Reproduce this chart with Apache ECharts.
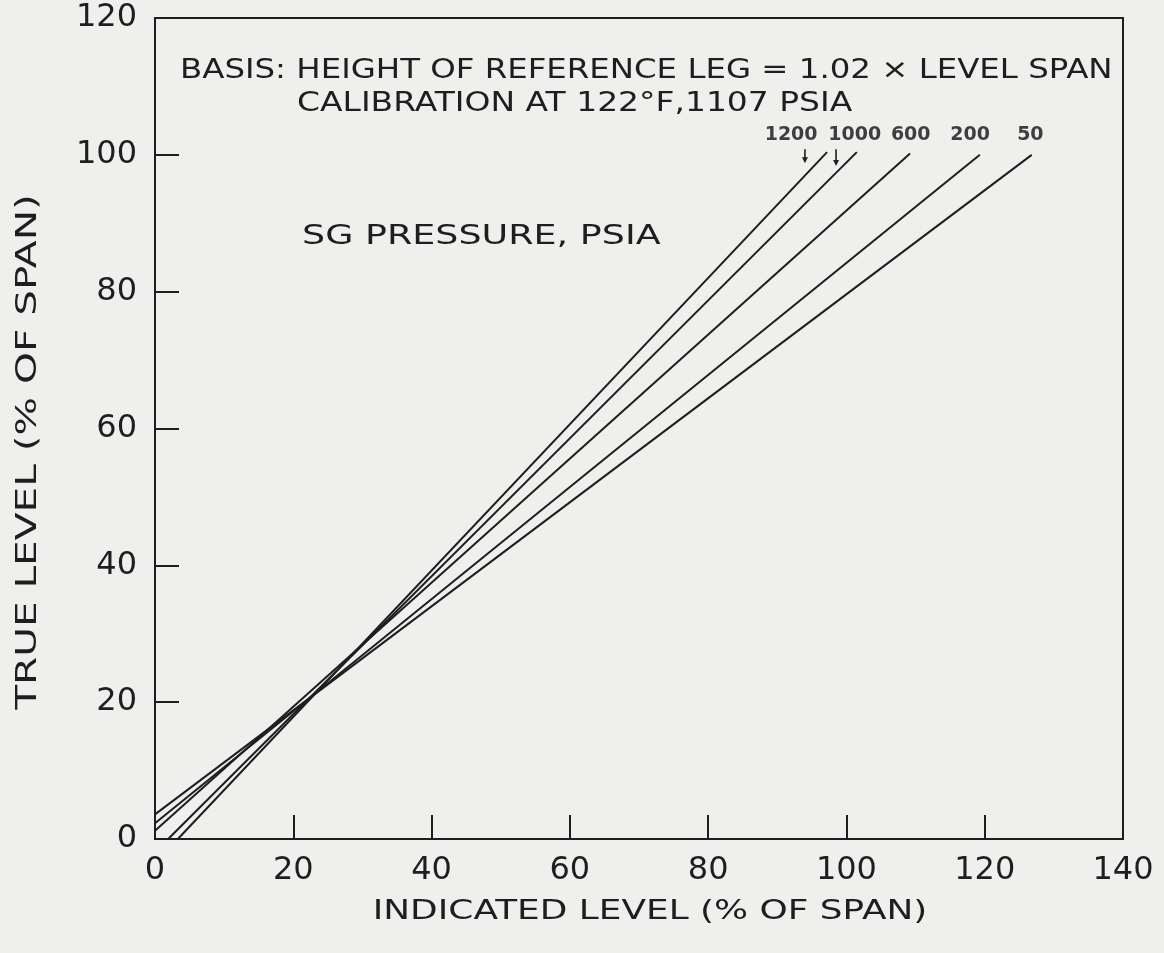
<!DOCTYPE html>
<html>
<head>
<meta charset="utf-8">
<script src="https://cdn.jsdelivr.net/npm/echarts@6/dist/echarts.min.js"></script>
<style>
html,body{margin:0;padding:0;background:#efefed;}
#c{width:1164px;height:953px;}
</style>
</head>
<body>
<div id="c"></div>
<script>
// ---- data ----
var pressures = ['1200', '1000', '600', '200', '50'];
// each line: [indicated level, true level] at its two ends
var line1200 = [[3.3, 0], [97.2, 100.4]];
var line1000 = [[1.9, 0], [101.5, 100.4]];
var line600  = [[0, 1.2], [109.2, 100.2]];
var line200  = [[0, 2.3], [119.3, 100.0]];
var line50   = [[0, 3.6], [126.8, 100.0]];
var lineLabelPos = [[92.0, 102.9], [101.2, 102.9], [109.3, 102.9], [117.9, 102.9], [126.6, 102.9]];
var arrow1200 = [[94.0, 100.8], [94.0, 99.2]];
var arrow1000 = [[98.5, 100.8], [98.5, 98.8]];
var xTicks = [0, 20, 40, 60, 80, 100, 120, 140];
var yTicks = [0, 20, 40, 60, 80, 100, 120];

var ink = '#1e1e1e';
var font = 'DejaVu Sans';
var chart = echarts.init(document.getElementById('c'));

function lineSeries(name, data) {
  return {
    name: name, type: 'line', data: data, symbol: 'none',
    lineStyle: {color: ink, width: 2}, silent: true, animation: false
  };
}
function arrowSeries(data) {
  return {
    type: 'line', data: data, symbol: 'none', silent: true, animation: false,
    lineStyle: {color: ink, width: 1.6},
    markPoint: {symbol: 'triangle', symbolSize: [6, 6], symbolRotate: 180, silent: true,
      itemStyle: {color: ink}, label: {show: false}, data: [{coord: data[1]}]}
  };
}
function wideText(text, x, y, size, sx, extra) {
  var o = {type: 'text', x: x, y: y, scaleX: sx, silent: true,
    style: {text: text, x: 0, y: 0, fill: ink, font: size + 'px "DejaVu Sans"',
            textAlign: 'left', textVerticalAlign: 'middle', align: 'left', verticalAlign: 'middle'}};
  if (extra) { for (var k in extra) o[k] = extra[k]; }
  return o;
}

var series = [
  lineSeries('1200', line1200),
  lineSeries('1000', line1000),
  lineSeries('600', line600),
  lineSeries('200', line200),
  lineSeries('50', line50),
  {
    type: 'scatter', symbolSize: 0, silent: true, animation: false,
    itemStyle: {color: ink},
    data: lineLabelPos.map(function (p, i) { return {value: p, name: pressures[i]}; }),
    label: {show: true, position: 'inside', formatter: '{b}', color: '#111',
            textBorderWidth: 0, fontFamily: font, fontSize: 19, fontWeight: 'bold'}
  },
  arrowSeries(arrow1200),
  arrowSeries(arrow1000)
];

chart.setOption({
  backgroundColor: '#efefed',
  animation: false,
  grid: {left: 155, right: 41, top: 18, bottom: 114, show: true,
         borderColor: ink, borderWidth: 2, backgroundColor: 'transparent'},
  xAxis: {
    type: 'value', min: xTicks[0], max: xTicks[xTicks.length - 1], interval: 20,
    axisLine: {show: true, lineStyle: {color: ink, width: 2}},
    axisTick: {show: true, inside: true, length: 24, lineStyle: {color: ink, width: 2}},
    axisLabel: {color: ink, fontFamily: font, fontSize: 32, margin: 16},
    splitLine: {show: false}
  },
  yAxis: {
    type: 'value', min: yTicks[0], max: yTicks[yTicks.length - 1], interval: 20,
    axisLine: {show: true, lineStyle: {color: ink, width: 2}},
    axisTick: {show: true, inside: true, length: 24, lineStyle: {color: ink, width: 2}},
    axisLabel: {color: ink, fontFamily: font, fontSize: 32, margin: 18},
    splitLine: {show: false}
  },
  graphic: [
    wideText('BASIS: HEIGHT OF REFERENCE LEG = 1.02 × LEVEL SPAN', 180, 71, 27, 1.2),
    wideText('CALIBRATION AT 122°F,1107 PSIA', 297, 104, 27, 1.22),
    wideText('SG PRESSURE, PSIA', 302, 237, 27, 1.35),
    {type: 'text', x: 650, y: 912, scaleX: 1.38, silent: true,
     style: {text: 'INDICATED LEVEL (% OF SPAN)', x: 0, y: 0, fill: ink, font: '26px "DejaVu Sans"',
             textAlign: 'center', textVerticalAlign: 'middle', align: 'center', verticalAlign: 'middle'}},
    {type: 'text', x: 29, y: 452, rotation: Math.PI / 2, scaleX: 1.45, silent: true,
     style: {text: 'TRUE LEVEL (% OF SPAN)', x: 0, y: 0, fill: ink, font: '28px "DejaVu Sans"',
             textAlign: 'center', textVerticalAlign: 'middle', align: 'center', verticalAlign: 'middle'}}
  ],
  series: series
});
</script>
</body>
</html>
